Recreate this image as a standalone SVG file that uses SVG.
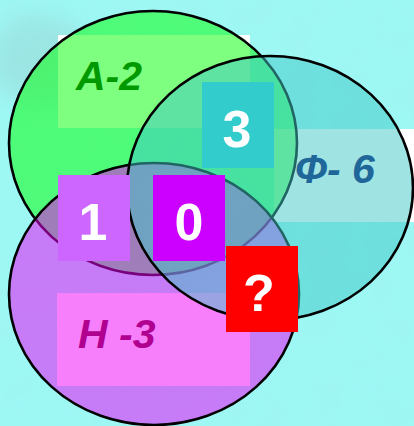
<svg xmlns="http://www.w3.org/2000/svg" width="414" height="426" viewBox="0 0 414 426">
  <style>
    .ring { stroke: #000; stroke-width: 2.6; }
    .lbl { font-family: "Liberation Sans", Arial, sans-serif; font-weight: bold; font-style: italic; font-size: 41px; }
    .num { font-family: "Liberation Sans", Arial, sans-serif; font-weight: bold; font-size: 52px; fill: #fff; text-anchor: middle; }
  </style>
  <defs>
    <filter id="tex" x="0" y="0" width="100%" height="100%">
      <feTurbulence type="fractalNoise" baseFrequency="0.035" numOctaves="3" seed="4"/>
      <feColorMatrix type="matrix" values="0 0 0 0 0.40  0 0 0 0 0.80  0 0 0 0 0.82  0 0 0 -1.6 1.05"/>
    </filter>
    <filter id="blur" x="-50%" y="-50%" width="200%" height="200%">
      <feGaussianBlur stdDeviation="12"/>
    </filter>
  </defs>

  <g id="background">
    <rect x="0" y="0" width="414" height="426" fill="#9df8f4"/>
    <rect x="0" y="0" width="414" height="426" filter="url(#tex)" opacity="0.2"/>
    <ellipse cx="40" cy="60" rx="50" ry="45" fill="#98cccc" opacity="0.4" filter="url(#blur)"/>
  </g>

  <g id="label-boxes">
    <rect x="58" y="35" width="192" height="93" fill="#fff"/>
    <rect x="274" y="129" width="140" height="93" fill="#fff"/>
    <rect x="57" y="293" width="193" height="93" fill="#fff"/>
  </g>

  <g id="set-A">
    <ellipse class="ring" cx="153" cy="143" rx="144" ry="132" fill="#00ff00" fill-opacity="0.5"/>
  </g>
  <g id="set-H">
    <ellipse class="ring" cx="154" cy="294" rx="145" ry="131" fill="#f000fa" fill-opacity="0.5"/>
  </g>
  <g id="set-F">
    <ellipse class="ring" cx="270" cy="188" rx="143" ry="132" fill="#40c8c8" fill-opacity="0.5"/>
  </g>

  <g id="connectors"></g>

  <g id="label-A">
    <text class="lbl" x="76" y="90" fill="#009900">A-2</text>
  </g>
  <g id="label-F">
    <text class="lbl" x="295" y="183" fill="#1f6699">Ф- 6</text>
  </g>
  <g id="label-H">
    <text class="lbl" x="78" y="348" fill="#b0008f">H -3</text>
  </g>

  <g id="region-3">
    <rect x="202" y="82" width="72" height="86" fill="#33cccc"/>
    <text class="num" x="237" y="147">3</text>
  </g>
  <g id="region-1">
    <rect x="58" y="175" width="72" height="86" fill="#cc66ff"/>
    <text class="num" x="93" y="240">1</text>
  </g>
  <g id="region-0">
    <rect x="153" y="175" width="72" height="86" fill="#cc00ff"/>
    <text class="num" x="189" y="240">0</text>
  </g>
  <g id="region-q">
    <rect x="226" y="246" width="72" height="86" fill="#ff0000"/>
    <text class="num" x="259" y="311">?</text>
  </g>
</svg>
